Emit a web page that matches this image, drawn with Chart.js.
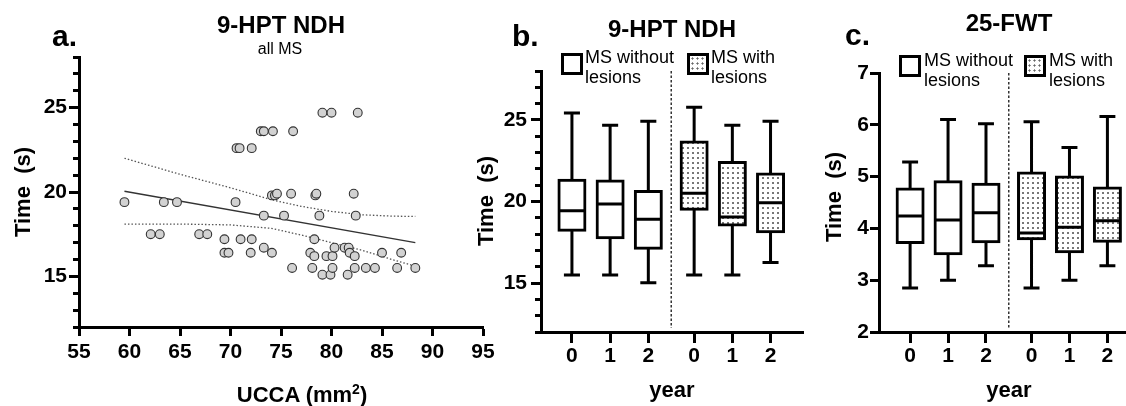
<!DOCTYPE html>
<html>
<head>
<meta charset="utf-8">
<title>UCCA and 9-HPT / 25-FWT</title>
<script src="https://cdn.jsdelivr.net/npm/chart.js@4.4.1/dist/chart.umd.min.js"></script>
<style>
  body { margin: 0; background: #fff; }
  #fig { position: relative; width: 1126px; height: 406px; overflow: hidden; background: #fff;
         font-family: "Liberation Sans", Arial, Helvetica, sans-serif; color: #000; }
  #fig canvas { position: absolute; top: 0; }
  .t { position: absolute; white-space: pre; }
  .title { font-size: 24px; line-height: 24px; font-weight: bold; width: 300px; text-align: center; }
  .sub { font-size: 16px; line-height: 16px; width: 200px; text-align: center; }
  .letter { font-size: 30px; line-height: 30px; font-weight: bold; }
  .ytitle { font-size: 22px; line-height: 22px; height: 22px; font-weight: bold; width: 200px; text-align: center; transform: rotate(-90deg); }
  .xtitle { font-size: 22px; line-height: 22px; font-weight: bold; width: 200px; text-align: center; }
  .xtitle sup { font-size: 14px; vertical-align: 8px; line-height: 0; }
  .leg { font-size: 18px; line-height: 20px; }
  .box { position: absolute; width: 22px; height: 22px; box-sizing: border-box; border: 3px solid #000; background: #fff; }
  .box.dots { background-image: radial-gradient(circle, #666 0.9px, transparent 1.2px); background-size: 5px 5px; }
</style>
</head>
<body>
<div id="fig">
  <canvas id="chartA" width="500" height="406" style="left:0px"></canvas>
  <canvas id="chartB" width="320" height="406" style="left:500px"></canvas>
  <canvas id="chartC" width="306" height="406" style="left:820px"></canvas>

  <!-- panel a -->
  <div class="t letter" style="left:52px;top:21px">a.</div>
  <div class="t title" style="left:131px;top:13px">9-HPT NDH</div>
  <div class="t sub" style="left:180px;top:41px">all MS</div>
  <div class="t ytitle" style="left:-77px;top:181px">Time  (s)</div>
  <div class="t xtitle" style="left:202px;top:384px">UCCA (mm<sup>2</sup>)</div>

  <!-- panel b -->
  <div class="t letter" style="left:512px;top:21px">b.</div>
  <div class="t title" style="left:522px;top:17px">9-HPT NDH</div>
  <div class="box" style="left:561px;top:53px"></div>
  <div class="t leg" style="left:585px;top:47px">MS without
lesions</div>
  <div class="box dots" style="left:687px;top:53px"></div>
  <div class="t leg" style="left:711px;top:47px">MS with
lesions</div>
  <div class="t ytitle" style="left:386px;top:190px">Time  (s)</div>
  <div class="t xtitle" style="left:572px;top:379px">year</div>

  <!-- panel c -->
  <div class="t letter" style="left:845px;top:20px">c.</div>
  <div class="t title" style="left:859px;top:11px">25-FWT</div>
  <div class="box" style="left:899px;top:55px"></div>
  <div class="t leg" style="left:924px;top:50px">MS without
lesions</div>
  <div class="box dots" style="left:1024px;top:55px"></div>
  <div class="t leg" style="left:1049px;top:50px">MS with
lesions</div>
  <div class="t ytitle" style="left:734px;top:186px">Time  (s)</div>
  <div class="t xtitle" style="left:909px;top:379px">year</div>
</div>

<script>
// ---------- panel a: 9-HPT NDH against UCCA (all MS) ----------
const ucca = [
  59.5, 62.1, 63.0, 63.4, 64.7, 66.9, 67.7, 69.4, 69.4, 69.8,
  70.5, 70.6, 70.9, 71.0, 72.1, 72.1, 72.0, 73.0, 73.3, 74.2,
  76.2, 73.3, 73.3, 74.1, 74.1, 74.4, 74.6, 75.3, 76.0, 76.1,
  78.1, 78.3, 77.9, 78.3, 78.4, 78.5, 78.8, 79.1, 80.0, 82.6,
  79.1, 79.9, 79.5, 80.1, 80.3, 80.1, 81.3, 81.7, 81.8, 82.3,
  82.2, 82.4, 82.3, 83.4, 84.3, 85.0, 86.9, 86.5, 88.3, 81.6
];
const hptTime = [
  19.4, 17.5, 17.5, 19.4, 19.4, 17.5, 17.5, 17.2, 16.4, 16.4,
  19.4, 22.6, 22.6, 17.2, 22.6, 17.2, 16.4, 23.6, 23.6, 23.6,
  23.6, 18.6, 16.7, 16.4, 19.8, 19.8, 19.9, 18.6, 19.9, 15.5,
  15.5, 17.2, 16.4, 16.2, 19.8, 19.9, 18.6, 24.7, 24.7, 24.7,
  15.1, 15.1, 16.2, 16.2, 16.7, 15.5, 16.7, 16.7, 16.4, 16.2,
  19.9, 18.6, 15.5, 15.5, 15.5, 16.4, 16.4, 15.5, 15.5, 15.1
];
// regression line and its confidence band
const fitUcca = [59.5, 88.3];
const fitTime = [20.05, 17.0];
const bandUcca = [59.5, 65, 70, 74, 77, 80, 83, 86, 88.3];
const bandUpper = [22.0, 21.05, 20.25, 19.55, 19.15, 18.85, 18.65, 18.57, 18.55];
const bandLower = [18.1, 18.1, 18.05, 17.85, 17.45, 17.0, 16.55, 16.0, 15.6];

const aXTicks = [55, 60, 65, 70, 75, 80, 85, 90, 95];
const timeMajor = [15, 20, 25];
const timeMinor = [12, 13, 14, 15, 16, 17, 18, 19, 20, 21, 22, 23, 24, 25, 26, 27, 28];

// ---------- panels b and c: box plots per year ----------
const years = ['0', '1', '2', '0', '1', '2'];
const withLesions = [false, false, false, true, true, true];

const hptMin = [15.49, 15.49, 15.02, 15.49, 15.49, 16.26];
const hptQ1 = [18.23, 17.78, 17.14, 19.53, 18.56, 18.15];
const hptMed = [19.44, 19.84, 18.91, 20.51, 19.05, 19.92];
const hptQ3 = [21.30, 21.26, 20.62, 23.64, 22.39, 21.69];
const hptMax = [25.43, 24.67, 24.92, 25.78, 24.67, 24.92];

const fwtMin = [2.85, 3.00, 3.28, 2.85, 3.00, 3.28];
const fwtQ1 = [3.73, 3.51, 3.74, 3.80, 3.55, 3.75];
const fwtMed = [4.24, 4.16, 4.30, 3.91, 4.02, 4.15];
const fwtQ3 = [4.76, 4.90, 4.85, 5.07, 4.99, 4.78];
const fwtMax = [5.28, 6.10, 6.02, 6.06, 5.56, 6.16];

const fwtTicks = [2, 3, 4, 5, 6, 7];

// slot of each box on the x axis, the second group is pushed a bit right
const GROUP_GAP = 0.2;
const slotX = years.map((y, i) => i + (withLesions[i] ? GROUP_GAP : 0));
const CAP = 0.21;   // half width of whisker caps (x units)
const MED = 0.34;   // half width of the median line

const FONT = '"Liberation Sans", Arial, Helvetica, sans-serif';
Chart.defaults.font.family = FONT;
Chart.defaults.color = '#000';
const tickFont = { family: FONT, size: 21, weight: 'bold' };

function setTicks(list) {
  return function (scale) {
    scale.ticks = list.map(v => ({ value: v }));
  };
}

function xAxis(min, max, tickList, labels, height, tickLen, pad) {
  return {
    type: 'linear', position: 'bottom', min: min, max: max, offset: false,
    afterBuildTicks: setTicks(tickList),
    afterFit: function (scale) { scale.height = height; },
    border: { color: '#000', width: 3 },
    grid: { offset: false, drawOnChartArea: false, tickLength: tickLen, tickWidth: 3, tickColor: '#000' },
    ticks: {
      font: tickFont, color: '#000', padding: pad, maxRotation: 0, autoSkip: false,
      callback: function (v, i) { return labels ? labels[i] : v; }
    }
  };
}

// main y axis with labels; optional second axis only for the short minor ticks
function yAxes(min, max, major, minor, width, pad, tickLen) {
  let axes = {
    y: {
      type: 'linear', position: 'left', weight: 1, min: min, max: max,
      afterBuildTicks: setTicks(major),
      afterFit: function (scale) { scale.width = width; },
      border: { color: '#000', width: 3 },
      grid: { drawOnChartArea: false, tickLength: tickLen, tickWidth: 3, tickColor: '#000' },
      ticks: { font: tickFont, color: '#000', padding: pad, autoSkip: false }
    }
  };
  if (minor) {
    axes.yMinor = {
      type: 'linear', position: 'left', weight: 0, min: min, max: max,
      afterBuildTicks: setTicks(minor),
      afterFit: function (scale) { scale.width = 0; },
      border: { display: false },
      grid: { drawOnChartArea: false, tickLength: 6, tickWidth: 3, tickColor: '#000' },
      ticks: { display: false }
    };
  }
  return axes;
}

function baseOptions(top, right, scales) {
  return {
    responsive: false, animation: false, events: [], devicePixelRatio: 1,
    layout: { padding: { left: 0, bottom: 0, top: top, right: right } },
    plugins: { legend: { display: false }, tooltip: { enabled: false }, title: { display: false } },
    scales: scales
  };
}

function toPoints(xs, ys) {
  return xs.map((x, i) => ({ x: x, y: ys[i] }));
}

function dotPattern() {
  let c = document.createElement('canvas');
  c.width = 5;
  c.height = 5;
  let g = c.getContext('2d');
  g.fillStyle = '#fff';
  g.fillRect(0, 0, 5, 5);
  g.fillStyle = '#777';
  g.fillRect(2, 2, 2, 2);
  return g.createPattern(c, 'repeat');
}
const dots = dotPattern();

// panel a
new Chart(document.getElementById('chartA'), {
  type: 'scatter',
  data: {
    datasets: [
      {
        data: toPoints(ucca, hptTime), yAxisID: 'y', order: 0,
        pointRadius: 4.4, pointBackgroundColor: '#d2d2d2', pointBorderColor: '#333', pointBorderWidth: 1.1
      },
      {
        data: toPoints(fitUcca, fitTime), yAxisID: 'y', order: 1, showLine: true,
        pointRadius: 0, borderColor: '#333', borderWidth: 1.5
      },
      {
        data: toPoints(bandUcca, bandUpper), yAxisID: 'y', order: 1, showLine: true,
        pointRadius: 0, borderColor: '#555', borderWidth: 1.3, borderDash: [1.5, 2]
      },
      {
        data: toPoints(bandUcca, bandLower), yAxisID: 'y', order: 1, showLine: true,
        pointRadius: 0, borderColor: '#555', borderWidth: 1.3, borderDash: [1.5, 2]
      }
    ]
  },
  options: baseOptions(57, 17, Object.assign(
    { x: xAxis(55, 95, aXTicks, null, 79, 9, 4) },
    yAxes(12, 28, timeMajor, timeMinor, 79, 2, 10)
  ))
});

function boxChart(id, mins, q1s, meds, q3s, maxs, yMin, yMax, major, minor, lay) {
  let whiskers = [];
  for (let i = 0; i < slotX.length; i++) {
    let x = slotX[i];
    whiskers.push({ x: x, y: q3s[i] }, { x: x, y: maxs[i] }, { x: x, y: null });
    whiskers.push({ x: x - CAP, y: maxs[i] }, { x: x + CAP, y: maxs[i] }, { x: x, y: null });
    whiskers.push({ x: x, y: q1s[i] }, { x: x, y: mins[i] }, { x: x, y: null });
    whiskers.push({ x: x - CAP, y: mins[i] }, { x: x + CAP, y: mins[i] }, { x: x, y: null });
    whiskers.push({ x: x - MED, y: meds[i] }, { x: x + MED, y: meds[i] }, { x: x, y: null });
  }
  let divX = (slotX[2] + slotX[3]) / 2;
  let divBottom = yMin + (yMax - yMin) * 0.015;

  return new Chart(document.getElementById(id), {
    type: 'bar',
    data: {
      datasets: [
        {
          data: slotX.map((x, i) => ({ x: x, y: [q1s[i], q3s[i]] })),
          yAxisID: 'y', order: 2, grouped: false,
          barThickness: 26, inflateAmount: 1.5,
          backgroundColor: withLesions.map(w => w ? dots : '#fff'),
          borderColor: '#000', borderWidth: 3, borderSkipped: false
        },
        {
          type: 'line', data: whiskers, yAxisID: 'y', order: 0,
          spanGaps: false, pointRadius: 0, borderColor: '#000', borderWidth: 3, tension: 0
        },
        {
          type: 'line', data: [{ x: divX, y: yMax }, { x: divX, y: divBottom }], yAxisID: 'y', order: 1,
          pointRadius: 0, borderColor: '#333', borderWidth: 1.5, borderDash: [2.5, 2]
        }
      ]
    },
    options: baseOptions(lay.top, lay.right, Object.assign(
      { x: xAxis(lay.xMin, lay.xMax, slotX, years, 74, 11, 1) },
      yAxes(yMin, yMax, major, minor, lay.yWidth, lay.pad, lay.tick)
    ))
  });
}

boxChart('chartB', hptMin, hptQ1, hptMed, hptQ3, hptMax, 12, 28, timeMajor, timeMinor,
  { top: 71, right: 17, yWidth: 41, pad: 4, tick: 10, xMin: -0.81, xMax: 6.05 });

boxChart('chartC', fwtMin, fwtQ1, fwtMed, fwtQ3, fwtMax, 2, 7, fwtTicks, null,
  { top: 73, right: 0, yWidth: 59, pad: 1, tick: 9, xMin: -0.82, xMax: 5.69 });
</script>
</body>
</html>
